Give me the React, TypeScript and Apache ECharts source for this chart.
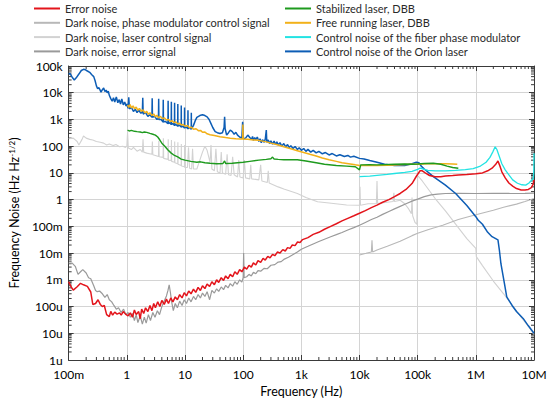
import React, { useEffect, useRef } from "react";
import * as echarts from "echarts";

const xTickLabels = ["100m", "1", "10", "100", "1k", "10k", "100k", "1M", "10M"];
const yTickLabels = ["1u", "10u", "100u", "1m", "10m", "100m", "1", "10", "100", "1k", "10k", "100k"];

const legendLeft = [
  "Error noise",
  "Dark noise, phase modulator control signal",
  "Dark noise, laser control signal",
  "Dark noise, error signal",
];
const legendRight = [
  "Stabilized laser, DBB",
  "Free running laser, DBB",
  "Control noise of the fiber phase modulator",
  "Control noise of the Orion laser",
];

const errorNoise = [
  [0.1, 8.5e-4], [0.11, 5.5e-4], [0.12, 4.1e-4], [0.14, 5.5e-4], [0.16, 7.4e-4], [0.18, 6.5e-4], [0.21, 5.7e-4],
  [0.24, 3.5e-4], [0.26, 1.2e-4], [0.29, 1.3e-4], [0.32, 1.8e-4], [0.35, 1.2e-4], [0.38, 1e-4], [0.41, 1.1e-4],
  [0.45, 5e-5], [0.5, 4.2e-5], [0.53, 6.6e-5], [0.57, 4.8e-5], [0.62, 6.2e-5], [0.68, 5.2e-5], [0.75, 5.8e-5],
  [0.8, 4.8e-5], [0.87, 6.5e-5], [0.95, 5.2e-5], [1.05, 4.5e-5], [1.15, 5.8e-5], [1.25, 4e-5], [1.35, 7.4e-5],
  [1.45, 5e-5], [1.6, 6.5e-5], [1.7, 3.5e-5], [1.8, 8e-5], [1.95, 5.5e-5], [2.1, 9e-5], [2.3, 6.5e-5],
  [2.5, 1.1e-4], [2.7, 7e-5], [2.9, 1.3e-4], [3.1, 9e-5], [3.4, 1.5e-4], [3.7, 1e-4], [4, 1.7e-4], [4.4, 1.2e-4],
  [4.8, 1.9e-4], [5.2, 1.3e-4], [5.7, 2.1e-4], [6.2, 1.5e-4], [6.8, 2.3e-4], [7.4, 1.8e-4], [8.1, 2.8e-4],
  [8.9, 2.1e-4], [9.7, 3.3e-4], [10.6, 2.5e-4], [11.6, 3.8e-4], [12.7, 3e-4], [14, 4.5e-4], [15.3, 3.4e-4],
  [16.8, 5.2e-4], [18.4, 4e-4], [20, 6e-4], [22, 4.7e-4], [24, 7e-4], [26.5, 5.6e-4], [29, 8.5e-4], [32, 6.6e-4],
  [35, 1e-3], [38, 8e-4], [42, 1.2e-3], [46, 9.5e-4], [50, 1.4e-3], [55, 1.1e-3], [60, 1.6e-3], [66, 1.3e-3],
  [72, 2e-3], [79, 1.6e-3], [87, 2.4e-3], [95, 2e-3], [105, 3e-3], [115, 2.5e-3], [126, 3.5e-3], [138, 3e-3],
  [150, 4.3e-3], [165, 3.6e-3], [180, 5.2e-3], [200, 4.5e-3], [220, 6.3e-3], [240, 5.5e-3], [265, 7.5e-3],
  [290, 6.6e-3], [320, 9e-3], [350, 8e-3], [390, 1.1e-2], [430, 1e-2], [480, 1.35e-2], [530, 1.2e-2],
  [580, 1.6e-2], [640, 1.5e-2], [700, 2e-2], [780, 1.9e-2], [860, 2.6e-2], [950, 2.5e-2], [1050, 3.2e-2],
  [1300, 3.8e-2], [1600, 5e-2], [2000, 6e-2], [2500, 7.8e-2], [3200, 0.1], [4000, 0.125], [5000, 0.16],
  [6300, 0.2], [8000, 0.25], [10000, 0.31], [12600, 0.39], [16000, 0.5], [20000, 0.62], [25000, 0.8],
  [32000, 1.0], [40000, 1.3], [50000, 1.7], [63000, 2.4], [80000, 4], [95000, 7.5], [110000, 12], [120000, 12],
  [135000, 10], [160000, 8], [200000, 7.2], [250000, 7.2], [300000, 7.6], [400000, 8], [500000, 8.4],
  [700000, 8.8], [1e6, 9.3], [1.3e6, 10], [1.6e6, 12], [1.9e6, 15], [2.2e6, 21], [2.4e6, 28], [2.55e6, 20],
  [2.8e6, 11], [3.2e6, 6.5], [3.7e6, 4.2], [4.3e6, 3.2], [5e6, 2.6], [6e6, 2.3], [7e6, 2.3], [8e6, 2.4],
  [9e6, 2.8], [9.7e6, 3.8], [1e7, 5.5],
];

const phaseModCtrl = [
  [10000, 0.0085], [13000, 0.0098], [16000, 0.011], [16400, 0.03], [16800, 0.011], [20000, 0.013],
  [30000, 0.018], [50000, 0.028], [80000, 0.045], [100000, 0.055], [150000, 0.075], [200000, 0.09],
  [270000, 0.11], [500000, 0.18], [800000, 0.24], [1.26e6, 0.31], [2e6, 0.4], [3e6, 0.52], [5e6, 0.68],
  [7e6, 0.85], [1e7, 1.1],
];

const laserCtrl = [
  [0.1, 190], [0.12, 200], [0.14, 150], [0.15, 110], [0.17, 180], [0.18, 240], [0.2, 200], [0.23, 180],
  [0.26, 170], [0.3, 150], [0.35, 140], [0.4, 130], [0.45, 110], [0.5, 120], [0.58, 105], [0.65, 115],
  [0.75, 95], [0.85, 100], [0.95, 90], [1.0, 100], [1.03, 330], [1.06, 85], [1.2, 75], [1.3, 90], [1.5, 65],
  [1.7, 75], [1.85, 60], [1.9, 180], [1.95, 60], [2.2, 55], [2.7, 50], [2.75, 150], [2.8, 48], [3.1, 45],
  [3.5, 41], [3.55, 160], [3.6, 40], [4.2, 38], [4.25, 200], [4.3, 35], [5.1, 32], [5.15, 180], [5.2, 30],
  [5.8, 29], [5.85, 170], [5.9, 27], [6.6, 25], [6.65, 150], [6.7, 24], [7.5, 22], [7.55, 140], [7.6, 21],
  [8.6, 19], [8.65, 120], [8.7, 18], [9.8, 17], [9.85, 110], [9.9, 16], [11, 16], [11.5, 90], [12, 15],
  [13, 14], [13.5, 80], [14, 14], [16, 14], [18, 30], [20, 60], [22, 100], [24, 70], [27, 25], [28, 110],
  [29, 14], [32, 12], [34, 80], [36, 11], [40, 10], [42, 60], [44, 10], [50, 9], [53, 50], [56, 8.5],
  [62, 8], [66, 40], [70, 8.5], [80, 7], [84, 30], [88, 7], [100, 6.5], [105, 30], [110, 6.5], [130, 6],
  [135, 20], [140, 6], [186, 5.5], [200, 20], [210, 5], [260, 4.4], [270, 12], [280, 4.2], [400, 3],
  [500, 2.5], [600, 2.2], [855, 1.7], [1200, 1.2], [1900, 0.83], [3000, 0.75], [6000, 0.63], [10000, 0.62],
  [10200, 3], [10400, 0.62], [14000, 0.7], [19500, 0.7], [20000, 5], [20500, 0.72], [30000, 0.8],
  [38000, 0.85], [39000, 1.8], [40000, 0.85], [50000, 0.95], [60000, 0.7], [70000, 0.45], [78000, 0.3],
  [80000, 1.2], [82000, 0.25], [90000, 0.14], [97000, 0.12], [100000, 8], [120000, 5], [200000, 1.1],
  [300000, 0.38], [500000, 0.09], [700000, 0.035], [1e6, 0.015], [1.02e6, 0.0074], [1.3e6, 0.0034],
  [2e6, 9e-4], [3e6, 3e-4], [4e6, 1.3e-4], [6e6, 4e-5], [8e6, 1.8e-5], [1e7, 9e-6],
];

const darkError = [
  [0.1, 4.2e-3], [0.115, 4.2e-3], [0.13, 3.2e-3], [0.145, 1.6e-3], [0.16, 2e-3], [0.175, 2.4e-3],
  [0.2, 1.8e-3], [0.22, 1.2e-3], [0.24, 1.1e-3], [0.27, 6e-4], [0.29, 4e-4], [0.31, 3.6e-4], [0.34, 3.8e-4],
  [0.38, 3e-4], [0.42, 2.2e-4], [0.46, 2.8e-4], [0.5, 1.8e-4], [0.55, 1.5e-4], [0.6, 1.1e-4], [0.66, 8e-5],
  [0.72, 9e-5], [0.8, 6e-5], [0.88, 8e-5], [0.96, 5e-5], [1.05, 6e-5], [1.15, 4e-5], [1.25, 5.5e-5],
  [1.35, 3e-5], [1.45, 5e-5], [1.55, 2.5e-5], [1.7, 4.5e-5], [1.85, 2.2e-5], [2, 4e-5], [2.15, 2.4e-5],
  [2.35, 5e-5], [2.55, 3e-5], [2.8, 6e-5], [3.05, 4e-5], [3.35, 7e-5], [3.65, 5e-5], [4, 1e-4], [4.4, 1.6e-4],
  [4.8, 2.5e-4], [5.1, 4e-4], [5.35, 6.5e-4], [5.6, 3.5e-4], [5.9, 1.5e-4], [6.3, 7e-5], [6.8, 1.3e-4],
  [7.4, 9e-5], [8.1, 1.6e-4], [8.9, 1.1e-4], [9.7, 1.8e-4], [10.6, 1.3e-4], [11.6, 2.1e-4], [12.7, 1.5e-4],
  [14, 2.4e-4], [15.3, 1.8e-4], [16.8, 2.8e-4], [18.4, 2.1e-4], [20, 3.2e-4], [22, 2.4e-4], [24, 3.6e-4],
  [26.5, 1.8e-4], [29, 4e-4], [32, 3.2e-4], [35, 4.6e-4], [38, 3.7e-4], [42, 5.4e-4], [46, 4.3e-4],
  [50, 6.2e-4], [55, 5e-4], [60, 7.2e-4], [66, 5.8e-4], [72, 8.5e-4], [79, 6.8e-4], [87, 1e-3], [95, 8.2e-4],
  [100, 1.2e-3], [102, 1e-2], [104, 1.2e-3], [115, 1.3e-3], [126, 1.6e-3], [138, 1.4e-3], [150, 1.9e-3],
  [165, 1.7e-3], [180, 2.2e-3], [200, 2.1e-3], [230, 2.7e-3], [260, 2.6e-3], [300, 3.5e-3], [350, 3.7e-3],
  [400, 4.6e-3], [450, 4.8e-3], [500, 5.8e-3], [600, 7e-3], [700, 8.5e-3], [855, 1.1e-2], [1000, 1.4e-2],
  [1300, 1.8e-2], [1600, 2.2e-2], [2000, 2.7e-2], [2500, 3.3e-2], [3200, 4.1e-2], [4000, 4.9e-2],
  [5000, 5.9e-2], [6300, 7.3e-2], [8000, 9e-2], [10000, 0.11], [12600, 0.14], [16000, 0.18], [20000, 0.22],
  [25000, 0.28], [32000, 0.36], [40000, 0.45], [50000, 0.56], [63000, 0.7], [80000, 0.88], [100000, 1.05],
  [130000, 1.3], [170000, 1.5], [220000, 1.62], [300000, 1.7], [500000, 1.72], [1e6, 1.7], [2e6, 1.72],
  [4e6, 1.7], [7e6, 1.72], [1e7, 1.75],
];

const stabilizedDBB = [
  [1.03, 400], [1.1, 370], [1.2, 390], [1.35, 360], [1.5, 350], [1.7, 340], [1.85, 320], [2.0, 340],
  [2.2, 330], [2.5, 300], [2.8, 280], [3.1, 260], [3.4, 220], [3.7, 170], [4, 130], [4.5, 100], [5.1, 72],
  [5.8, 55], [6.6, 45], [7.5, 40], [8.6, 33], [10, 30], [12.6, 27], [16, 25], [18.5, 26], [22, 24], [27, 23],
  [35, 22], [45, 22.5], [48, 28], [50, 22.5], [65, 23], [80, 24], [100, 25], [130, 27], [186, 30], [250, 32],
  [300, 34], [320, 39], [340, 33], [400, 32], [500, 31], [700, 31], [855, 31], [1200, 28], [1800, 24],
  [2500, 21], [4000, 19], [6000, 18], [8500, 17], [10000, 13], [10500, 20], [15000, 20.5], [20000, 20],
  [40000, 21], [60000, 21.5], [80000, 21], [100000, 21.5], [130000, 22.5], [186000, 23], [250000, 21],
  [320000, 18], [400000, 16], [500000, 15],
];

const freeRunningDBB = [
  [1.03, 3500], [1.08, 2800], [1.14, 3600], [1.2, 2700], [1.28, 3200], [1.36, 2500], [1.45, 2900],
  [1.55, 2200], [1.65, 2600], [1.78, 2000], [1.9, 2300], [2.05, 1750], [2.2, 2000], [2.35, 1550],
  [2.5, 1800], [2.7, 1400], [2.9, 1600], [3.1, 1250], [3.3, 1450], [3.5, 1150], [3.8, 1300], [4.1, 1050],
  [4.4, 1150], [4.8, 950], [5.2, 1000], [5.6, 830], [6, 900], [6.5, 760], [7, 800], [7.5, 680], [8.1, 720],
  [8.6, 620], [9.3, 650], [10, 560], [11, 590], [12, 490], [13, 510], [14, 430], [15.5, 450], [17, 380],
  [18.5, 390], [20, 330], [22, 340], [24, 290], [27, 270], [32, 250], [40, 225], [50, 210], [60, 200],
  [75, 190], [90, 185], [98, 185], [99, 650], [100, 185], [120, 180], [150, 172], [186, 165], [250, 145],
  [300, 130], [400, 110], [500, 95], [660, 80], [855, 68], [1100, 58], [1400, 50], [1800, 43], [2300, 36],
  [3000, 31], [4000, 27], [5000, 24], [6500, 22], [8500, 20], [10000, 19], [15000, 19], [20000, 19],
  [30000, 19.5], [50000, 20], [80000, 21], [100000, 21], [150000, 22], [200000, 22], [300000, 22],
  [400000, 21.5], [480000, 21],
];

const fiberPhaseMod = [
  [10000, 7.3], [15000, 7.6], [20000, 8.1], [30000, 8.8], [40000, 9.5], [60000, 10.5], [80000, 11.5],
  [100000, 13.5], [110000, 15], [125000, 14], [150000, 12.5], [200000, 12], [300000, 12], [450000, 12.5],
  [660000, 13.3], [900000, 14.5], [1.2e6, 18], [1.5e6, 25], [1.75e6, 38], [1.95e6, 60], [2.15e6, 95],
  [2.3e6, 75], [2.5e6, 45], [2.8e6, 22], [3.2e6, 13], [3.7e6, 8.5], [4.3e6, 5.5], [5.2e6, 4.1],
  [6.2e6, 3.6], [7.2e6, 3.5], [8.2e6, 4.2], [9e6, 5.2], [9.7e6, 6], [9.9e6, 10], [1e7, 54],
];

const orionLaser = [
  [0.1, 50000], [0.105, 53000], [0.115, 38000], [0.125, 30000], [0.135, 36000], [0.15, 50000],
  [0.165, 68000], [0.18, 75000], [0.195, 72000], [0.21, 65000], [0.23, 58000], [0.25, 47000],
  [0.27, 40000], [0.285, 28000], [0.3, 18000], [0.315, 14000], [0.33, 15500], [0.345, 13000],
  [0.36, 10500], [0.38, 13000], [0.4, 15000], [0.42, 11000], [0.44, 12500], [0.46, 10000], [0.48, 11500],
  [0.5, 8000], [0.53, 6000], [0.56, 4800], [0.59, 6500], [0.62, 4500], [0.66, 7000], [0.7, 4200],
  [0.74, 5500], [0.78, 3800], [0.82, 5800], [0.87, 3500], [0.92, 4500], [0.97, 3200], [1.0, 3800],
  [1.05, 2600], [1.08, 6800], [1.11, 2500], [1.2, 2800], [1.3, 2000], [1.4, 2400], [1.5, 1800], [1.6, 2200],
  [1.75, 1700], [1.85, 1900], [1.88, 6500], [1.91, 1600], [2.1, 1800], [2.3, 1300], [2.5, 1500], [2.7, 1200],
  [2.73, 6200], [2.76, 1200], [3, 1300], [3.3, 1000], [3.5, 1100], [3.53, 6000], [3.56, 1000], [3.9, 1000],
  [4.2, 800], [4.23, 5500], [4.26, 800], [4.6, 850], [5.1, 700], [5.13, 5000], [5.16, 700], [5.5, 750],
  [5.8, 650], [5.83, 4600], [5.86, 650], [6.2, 700], [6.6, 600], [6.63, 4200], [6.66, 600], [7, 650],
  [7.5, 560], [7.53, 3800], [7.56, 560], [8, 620], [8.6, 520], [8.63, 3300], [8.66, 520], [9.2, 560],
  [9.8, 480], [9.83, 2800], [9.86, 480], [10.5, 520], [11.2, 450], [11.25, 2200], [11.3, 450], [12, 500],
  [12.8, 430], [12.85, 1800], [12.9, 430], [14, 600], [15, 900], [16, 1200], [18, 1400], [20, 1500],
  [22, 1400], [24, 1250], [26, 1000], [28, 700], [30, 500], [33, 350], [36, 320], [40, 300], [44, 320],
  [47, 500], [48, 1250], [49, 450], [52, 260], [56, 320], [60, 400], [65, 350], [70, 280], [75, 330],
  [80, 260], [87, 220], [95, 200], [98, 820], [101, 190], [110, 200], [120, 260], [130, 210], [140, 180],
  [145, 230], [150, 165], [158, 210], [165, 175], [175, 220], [186, 150], [195, 190], [205, 135],
  [215, 175], [230, 140], [240, 185], [250, 400], [255, 140], [270, 170], [285, 125], [300, 160],
  [320, 120], [340, 155], [360, 115], [380, 145], [400, 110], [430, 135], [460, 100], [500, 125],
  [540, 95], [580, 115], [620, 88], [660, 105], [720, 82], [780, 98], [855, 75], [920, 88], [1000, 70],
  [1100, 82], [1200, 64], [1300, 76], [1450, 60], [1600, 70], [1800, 56], [2000, 64], [2300, 52],
  [2600, 58], [3000, 47], [3400, 53], [4000, 43], [4600, 48], [5500, 41], [6300, 45], [7000, 39],
  [8000, 42], [10000, 35], [12000, 33], [15000, 29], [20000, 25], [27000, 21], [40000, 19],
  [60000, 19], [80000, 22], [95000, 25], [105000, 24], [115000, 18], [130000, 14], [186000, 7.3],
  [300000, 3.5], [450000, 1.7], [700000, 0.6], [1e6, 0.23], [1.1e6, 0.17], [1.3e6, 0.12], [1.6e6, 0.06],
  [1.9e6, 0.041], [2.4e6, 0.031], [2.55e6, 0.012], [2.7e6, 0.004], [3.1e6, 7.4e-4], [3.4e6, 2.3e-4],
  [4.2e6, 1.1e-4], [5e6, 6.5e-5], [6.5e6, 3.6e-5], [8e6, 1.9e-5], [1e7, 1e-5],
];

const FONT = 'Lato, "Open Sans", sans-serif';
const AXIS_COLOR = "#3a3a3a";

function minorTickValues(fromExp: number, toExp: number) {
  const out: number[] = [];
  for (let e = fromExp; e < toExp; e++) {
    for (let m = 2; m <= 9; m++) out.push(m * Math.pow(10, e));
  }
  return out;
}

export default function App() {
  const ref = useRef<HTMLDivElement>(null);
  useEffect(() => {
    const chart = echarts.init(ref.current!, null, { renderer: "svg" });

    const lineSeries = (name: string, data: number[][], color: string, width: number) => ({
      type: "line",
      name,
      data,
      symbol: "none",
      showSymbol: false,
      clip: true,
      silent: true,
      lineStyle: { color, width },
      itemStyle: { color },
    });

    const xMinor = minorTickValues(-1, 7).map((v) => [v, 1]);
    const yMinor = minorTickValues(-6, 5).map((v) => [1, v]);

    const baseX = { type: "log", logBase: 10, min: 0.1, max: 1e7, interval: 1 };
    const baseY = { type: "log", logBase: 10, min: 1e-6, max: 1e5, interval: 1 };

    const legendCommon = {
      orient: "vertical",
      top: 3,
      padding: 0,
      itemWidth: 26,
      itemHeight: 10,
      itemGap: 3.3,
      selectedMode: false,
      itemStyle: { opacity: 0, borderWidth: 0 },
      textStyle: { fontSize: 11, lineHeight: 10, fontFamily: FONT, color: "#2a2a2a" },
    };

    const option = {
      animation: false,
      backgroundColor: "#ffffff",
      grid: { left: 54, right: 16, top: 66, bottom: 47 },
      legend: [
        { ...legendCommon, data: legendLeft, left: 33 },
        { ...legendCommon, data: legendRight, left: 284 },
      ],
      xAxis: [
        {
          ...baseX,
          position: "bottom",
          name: "Frequency (Hz)",
          nameLocation: "middle",
          nameGap: 23,
          nameTextStyle: { fontSize: 12.5, fontFamily: FONT, color: "#000" },
          axisLine: { show: true, lineStyle: { color: AXIS_COLOR, width: 1 } },
          axisTick: { show: true, inside: true, length: 5, lineStyle: { color: AXIS_COLOR } },
          axisLabel: {
            fontSize: 12,
            fontFamily: FONT,
            color: "#000",
            margin: 8,
            formatter: (v: number) => xTickLabels[Math.round(Math.log10(v)) + 1] ?? "",
          },
          splitLine: { show: true, lineStyle: { color: "#d4d4d4", width: 1 } },
        },
        {
          ...baseX,
          position: "top",
          axisLine: { show: true, lineStyle: { color: AXIS_COLOR, width: 1 } },
          axisTick: { show: true, inside: true, length: 5, lineStyle: { color: AXIS_COLOR } },
          axisLabel: { show: false },
          splitLine: { show: false },
        },
      ],
      yAxis: [
        {
          ...baseY,
          position: "left",
          name: "Frequency Noise (Hz Hz{sup|-1/2})",
          nameLocation: "middle",
          nameGap: 39,
          nameTextStyle: {
            fontSize: 12.5,
            fontFamily: FONT,
            color: "#000",
            rich: {
              sup: { fontSize: 8, fontFamily: FONT, color: "#000", verticalAlign: "top", padding: [0, 0, 5, 0] },
            },
          },
          axisLine: { show: true, lineStyle: { color: AXIS_COLOR, width: 1 } },
          axisTick: { show: true, inside: true, length: 5, lineStyle: { color: AXIS_COLOR } },
          axisLabel: {
            fontSize: 12,
            fontFamily: FONT,
            color: "#000",
            margin: 6,
            formatter: (v: number) => yTickLabels[Math.round(Math.log10(v)) + 6] ?? "",
          },
          splitLine: { show: true, lineStyle: { color: "#d4d4d4", width: 1 } },
        },
        {
          ...baseY,
          position: "right",
          axisLine: { show: true, lineStyle: { color: AXIS_COLOR, width: 1 } },
          axisTick: { show: true, inside: true, length: 5, lineStyle: { color: AXIS_COLOR } },
          axisLabel: { show: false },
          splitLine: { show: false },
        },
      ],
      series: [
        lineSeries(legendLeft[2], laserCtrl, "#d2d2d2", 1.1),
        lineSeries(legendLeft[1], phaseModCtrl, "#b8b8b8", 1.1),
        lineSeries(legendLeft[3], darkError, "#9a9a9a", 1.2),
        lineSeries(legendRight[3], orionLaser, "#0d5db5", 1.5),
        lineSeries(legendRight[2], fiberPhaseMod, "#22e3e3", 1.3),
        lineSeries(legendLeft[0], errorNoise, "#e3141b", 1.5),
        lineSeries(legendRight[1], freeRunningDBB, "#f2b11a", 1.5),
        lineSeries(legendRight[0], stabilizedDBB, "#1e9a1e", 1.4),
        {
          type: "custom",
          name: "xMinorTicks",
          silent: true,
          clip: false,
          data: xMinor,
          renderItem: (params: any, api: any) => {
            const x = api.coord([api.value(0), 1])[0];
            const cs = params.coordSys;
            const b = cs.y + cs.height;
            return {
              type: "group",
              children: [
                { type: "line", shape: { x1: x, y1: b, x2: x, y2: b - 3 }, style: { stroke: AXIS_COLOR, lineWidth: 1 } },
                { type: "line", shape: { x1: x, y1: cs.y, x2: x, y2: cs.y + 3 }, style: { stroke: AXIS_COLOR, lineWidth: 1 } },
              ],
            };
          },
        },
        {
          type: "custom",
          name: "yMinorTicks",
          silent: true,
          clip: false,
          data: yMinor,
          renderItem: (params: any, api: any) => {
            const y = api.coord([1, api.value(1)])[1];
            const cs = params.coordSys;
            const r = cs.x + cs.width;
            return {
              type: "group",
              children: [
                { type: "line", shape: { x1: cs.x, y1: y, x2: cs.x + 3, y2: y }, style: { stroke: AXIS_COLOR, lineWidth: 1 } },
                { type: "line", shape: { x1: r, y1: y, x2: r - 3, y2: y }, style: { stroke: AXIS_COLOR, lineWidth: 1 } },
              ],
            };
          },
        },
      ],
    };

    chart.setOption(option as any);
    return () => chart.dispose();
  }, []);

  return (
    <div
      ref={ref}
      style={{ position: "absolute", left: 0, top: 0, width: 550, height: 407, background: "#fff" }}
    />
  );
}
